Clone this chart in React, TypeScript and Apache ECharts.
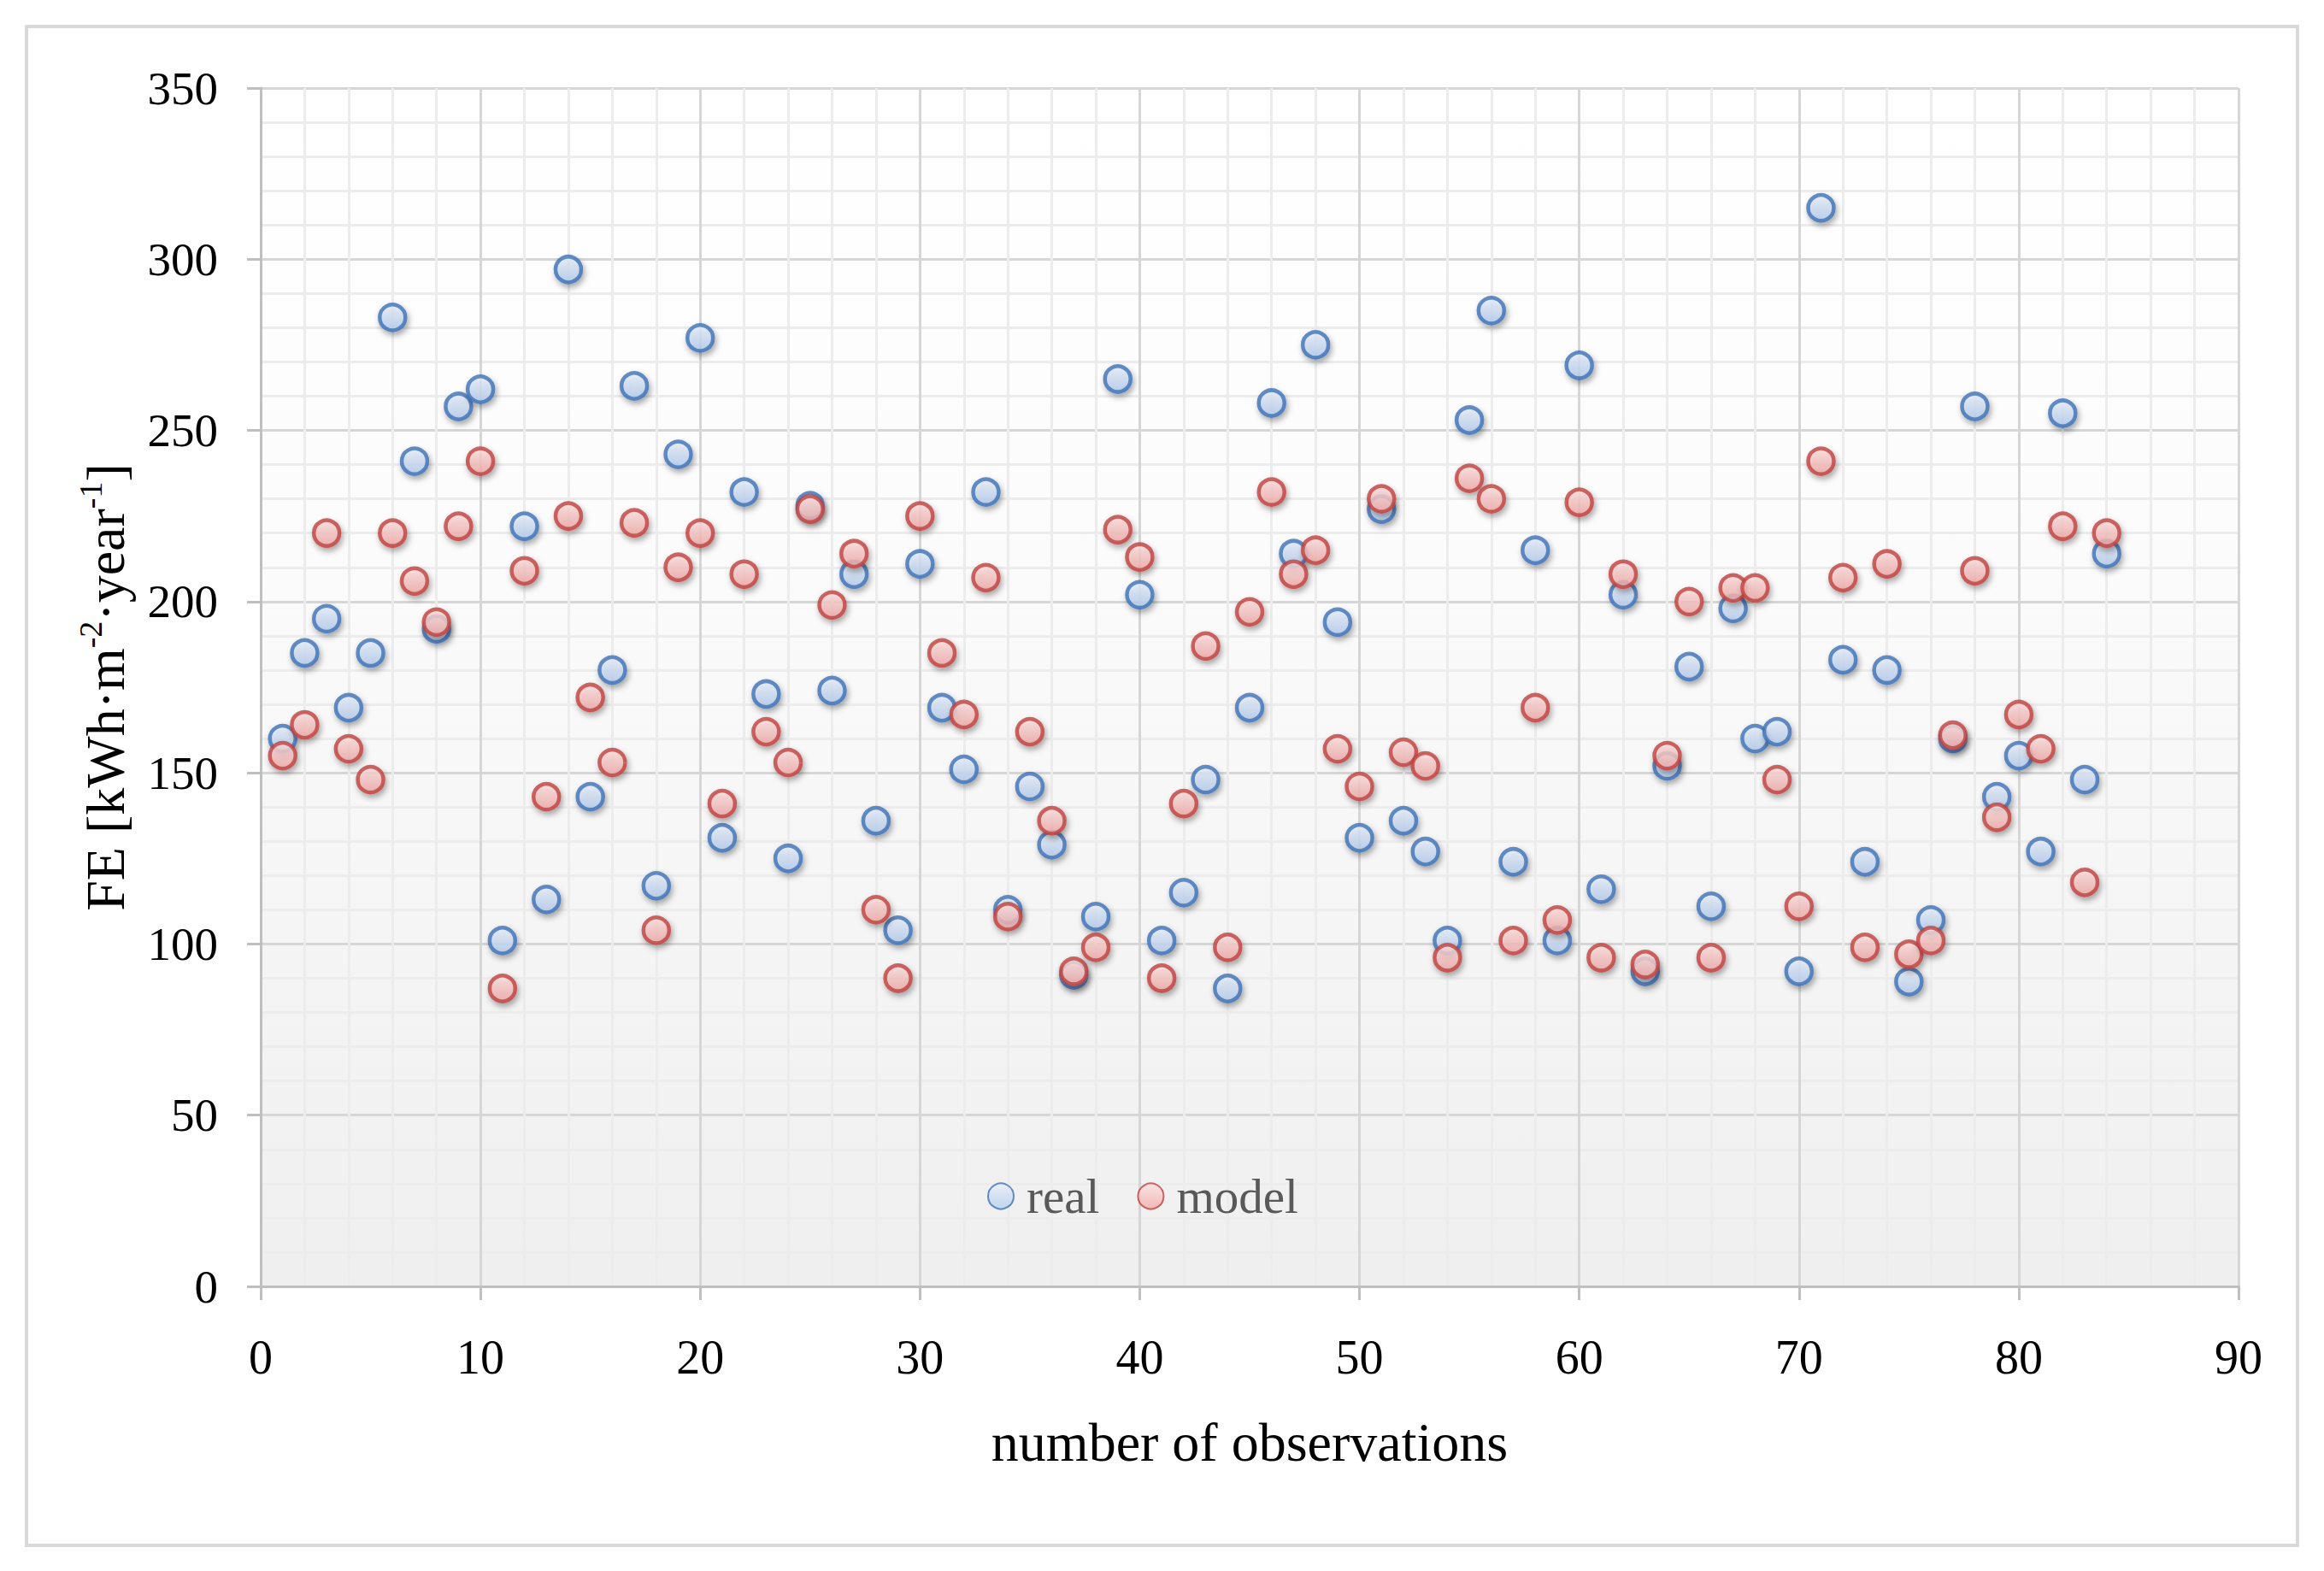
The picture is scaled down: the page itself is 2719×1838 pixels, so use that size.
import React, { useEffect, useRef } from "react";
import * as echarts from "echarts";

const observations = [
  1, 2, 3, 4, 5, 6, 7, 8, 9, 10, 11, 12, 13, 14, 15, 16, 17, 18, 19, 20,
  21, 22, 23, 24, 25, 26, 27, 28, 29, 30, 31, 32, 33, 34, 35, 36, 37, 38, 39, 40,
  41, 42, 43, 44, 45, 46, 47, 48, 49, 50, 51, 52, 53, 54, 55, 56, 57, 58, 59, 60,
  61, 62, 63, 64, 65, 66, 67, 68, 69, 70, 71, 72, 73, 74, 75, 76, 77, 78, 79, 80,
  81, 82, 83, 84,
];

const realValues = [
  160, 185, 195, 169, 185, 283, 241, 192, 257, 262,
  101, 222, 113, 297, 143, 180, 263, 117, 243, 277,
  131, 232, 173, 125, 228, 174, 208, 136, 104, 211,
  169, 151, 232, 110, 146, 129, 91, 108, 265, 202,
  101, 115, 148, 87, 169, 258, 214, 275, 194, 131,
  227, 136, 127, 101, 253, 285, 124, 215, 101, 269,
  116, 202, 92, 152, 181, 111, 198, 160, 162, 92,
  315, 183, 124, 180, 89, 107, 160, 257, 143, 155,
  127, 255, 148, 214,
];

const modelValues = [
  155, 164, 220, 157, 148, 220, 206, 194, 222, 241,
  87, 209, 143, 225, 172, 153, 223, 104, 210, 220,
  141, 208, 162, 153, 227, 199, 214, 110, 90, 225,
  185, 167, 207, 108, 162, 136, 92, 99, 221, 213,
  90, 141, 187, 99, 197, 232, 208, 215, 157, 146,
  230, 156, 152, 96, 236, 230, 101, 169, 107, 229,
  96, 208, 94, 155, 200, 96, 204, 204, 148, 111,
  241, 207, 99, 211, 97, 101, 161, 209, 137, 167,
  157, 222, 118, 220,
];

const seriesNames = ["real", "model"];
const xTitle = "number of observations";
const yTitleRich = "{t|FE [kWh·m}{s|-2}{t|·year}{s|-1}{t|]}";

const FONT = "Liberation Serif";

function pairs(xs: number[], ys: number[]) {
  return xs.map((x, i) => [x, ys[i]]);
}

export default function App() {
  const ref = useRef<HTMLDivElement>(null);

  useEffect(() => {
    if (!ref.current) return;
    const chart = echarts.init(ref.current, null, { renderer: "svg" });

    const blueFill = new echarts.graphic.LinearGradient(0, 0, 0, 1, [
      { offset: 0, color: "#e9f0fb" },
      { offset: 1, color: "#b4ccee" },
    ]);
    const redFill = new echarts.graphic.LinearGradient(0, 0, 0, 1, [
      { offset: 0, color: "#fde0df" },
      { offset: 1, color: "#f0aaa8" },
    ]);
    const plotBg = new echarts.graphic.LinearGradient(0, 0, 0, 1, [
      { offset: 0, color: "#ffffff" },
      { offset: 0.35, color: "#fcfcfc" },
      { offset: 1, color: "#efefef" },
    ]);

    const option = {
      animation: false,
      backgroundColor: "#ffffff",
      graphic: [
        {
          type: "rect",
          shape: { x: 31, y: 31, width: 2657, height: 1777 },
          style: { fill: "none", stroke: "#d9d9d9", lineWidth: 4 },
          z: -1,
        },
      ],
      grid: {
        left: 305,
        right: 100,
        top: 103,
        bottom: 333,
        show: true,
        backgroundColor: plotBg,
        borderWidth: 0,
      },
      legend: {
        data: seriesNames,
        left: 1150,
        top: 1366,
        icon: "circle",
        itemWidth: 30,
        itemHeight: 30,
        itemGap: 44,
        textStyle: {
          fontFamily: FONT,
          fontSize: 57,
          color: "#595959",
          padding: [0, 0, 0, 10],
        },
      },
      xAxis: {
        type: "value",
        min: 0,
        max: 90,
        interval: 10,
        name: xTitle,
        nameLocation: "middle",
        nameGap: 150,
        nameTextStyle: { fontFamily: FONT, fontSize: 64, color: "#000000" },
        axisLine: { show: true, lineStyle: { color: "#bfbfbf", width: 3 } },
        axisTick: { show: true, length: 16, lineStyle: { color: "#bfbfbf", width: 3 } },
        axisLabel: { fontFamily: FONT, fontSize: 56, color: "#000000", margin: 55 },
        splitLine: { show: true, lineStyle: { color: "#d6d6d6", width: 3 } },
        minorTick: { show: false, splitNumber: 5 },
        minorSplitLine: { show: true, lineStyle: { color: "#ececec", width: 3 } },
      },
      yAxis: {
        type: "value",
        min: 0,
        max: 350,
        interval: 50,
        name: yTitleRich,
        nameLocation: "middle",
        nameGap: 146,
        nameRotate: 90,
        nameTextStyle: {
          color: "#000000",
          rich: {
            t: { fontFamily: FONT, fontSize: 64, lineHeight: 72, color: "#000000" },
            s: {
              fontFamily: FONT,
              fontSize: 38,
              lineHeight: 40,
              verticalAlign: "top",
              color: "#000000",
            },
          },
        },
        axisLine: { show: true, lineStyle: { color: "#bfbfbf", width: 3 } },
        axisTick: { show: true, length: 16, lineStyle: { color: "#bfbfbf", width: 3 } },
        axisLabel: { fontFamily: FONT, fontSize: 55, color: "#000000", margin: 50 },
        splitLine: { show: true, lineStyle: { color: "#d6d6d6", width: 3 } },
        minorTick: { show: false, splitNumber: 5 },
        minorSplitLine: { show: true, lineStyle: { color: "#ececec", width: 3 } },
      },
      series: [
        {
          name: seriesNames[0],
          type: "scatter",
          symbol: "circle",
          symbolSize: 30,
          data: pairs(observations, realValues),
          itemStyle: {
            color: blueFill,
            borderColor: "#3d72b8",
            borderWidth: 4.5,
            shadowBlur: 7,
            shadowOffsetX: 2,
            shadowOffsetY: 4,
            shadowColor: "rgba(0,0,0,0.4)",
          },
        },
        {
          name: seriesNames[1],
          type: "scatter",
          symbol: "circle",
          symbolSize: 30,
          data: pairs(observations, modelValues),
          itemStyle: {
            color: redFill,
            borderColor: "#c0413e",
            borderWidth: 4.5,
            shadowBlur: 7,
            shadowOffsetX: 2,
            shadowOffsetY: 4,
            shadowColor: "rgba(0,0,0,0.4)",
          },
        },
      ],
    };

    chart.setOption(option as any);
    return () => chart.dispose();
  }, []);

  return (
    <div
      ref={ref}
      style={{ position: "fixed", left: 0, top: 0, width: 2719, height: 1838 }}
    />
  );
}
